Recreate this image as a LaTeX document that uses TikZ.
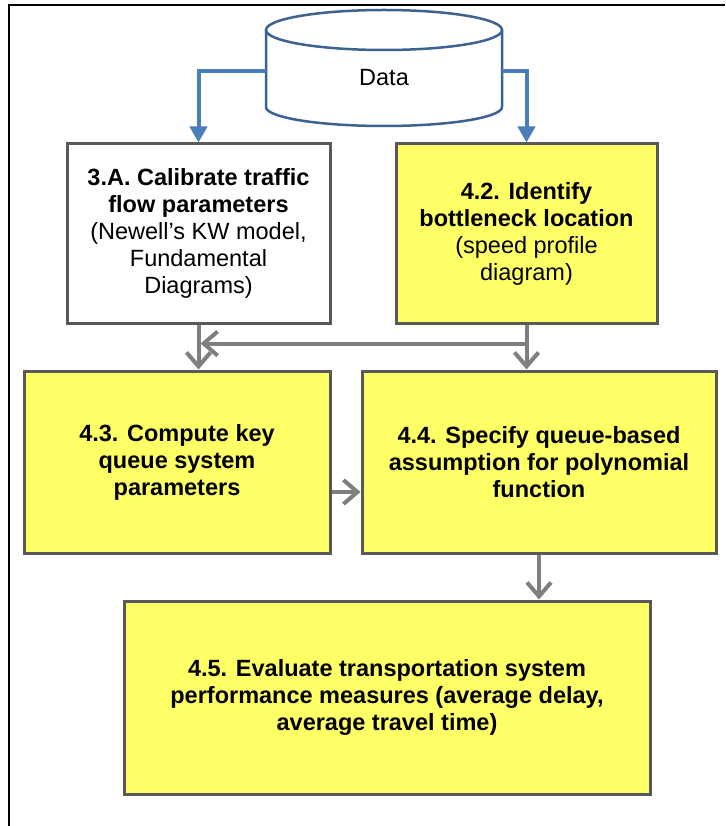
\documentclass[tikz,border=0pt]{standalone}
\usepackage{fontspec}
\setmainfont{Liberation Sans}
\usetikzlibrary{arrows.meta,shadows}

\definecolor{boxyellow}{HTML}{FFFF66}
\definecolor{boxedge}{HTML}{595959}
\definecolor{flowgray}{HTML}{7F7F7F}
\definecolor{datablue}{HTML}{4A7EBB}
\definecolor{cylblue}{HTML}{3B6291}

\begin{document}
\begin{tikzpicture}[x=1pt,y=-1pt,
  txt/.style={font=\fontsize{23.5}{27}\selectfont},
  stepbox/.style={draw=boxedge, line width=3pt, align=center, inner sep=0pt, txt,
    drop shadow={shadow xshift=1.2pt, shadow yshift=-1.2pt, fill=black, opacity=0.18}},
  yellowbox/.style={stepbox, fill=boxyellow},
  whitebox/.style={stepbox, fill=white},
  grayarrow/.style={draw=flowgray, line width=4pt, -{Straight Barb[length=14pt,width=24pt]}},
  bluearrow/.style={draw=datablue, line width=4pt, -{Triangle[length=16pt,width=17pt]}},
  cyl/.style={draw=cylblue, line width=2.5pt, fill=white}
]
\useasboundingbox (0,0) rectangle (725,826);

% outer frame
\draw[black, line width=2.5pt] (9,826) -- (9,5) -- (725,5);

% data store
\draw[cyl] (266,30) -- (266,107) arc[start angle=180, end angle=360, x radius=118pt, y radius=19pt] -- (502,30);
\draw[cyl] (384,30) ellipse[x radius=118pt, y radius=20pt];
\node[txt] (data) at (384,78) {Data};
\coordinate (dataL) at (266,71);
\coordinate (dataR) at (502,71);

% process steps
\node[whitebox, minimum width=263pt, minimum height=179pt] (b3A) at (198.5,233.5)
  {\textbf{3.A. Calibrate traffic}\\\textbf{flow parameters}\\(Newell’s KW model,\\Fundamental\\Diagrams)};
\node[yellowbox, minimum width=261pt, minimum height=179pt] (b42) at (526.5,233.5)
  {\textbf{4.2. Identify}\\\textbf{bottleneck location}\\(speed profile\\diagram)};
\node[yellowbox, minimum width=306pt, minimum height=182pt] (b43) at (177,462)
  {\textbf{4.3. Compute key}\\\textbf{queue system}\\\textbf{parameters}};
\node[yellowbox, minimum width=354pt, minimum height=182pt] (b44) at (539,462)
  {\textbf{4.4. Specify queue-based}\\\textbf{assumption for polynomial}\\\textbf{function}};
\node[yellowbox, minimum width=526pt, minimum height=193pt] (b45) at (387,697.5)
  {\textbf{4.5. Evaluate transportation system}\\\textbf{performance measures (average delay,}\\\textbf{average travel time)}};

% data feeds
\draw[bluearrow] (dataL) -| (b3A.north);
\draw[bluearrow] (dataR) -| (b42.north);

% step flow
\draw[grayarrow] (b3A.south) -- (b3A.south |- b43.north);
\draw[grayarrow] (b42.south) -- (b42.south |- b44.north);
\path (b42.south) ++(0,19) coordinate (split);
\draw[grayarrow, shorten >=2pt] (split) -- (split -| b3A.south);
\draw[grayarrow] ([yshift=-30pt]b43.east) -- ([yshift=-30pt]b44.west);
\draw[grayarrow] (b44.south) -- (b44.south |- b45.north);
\end{tikzpicture}
\end{document}
